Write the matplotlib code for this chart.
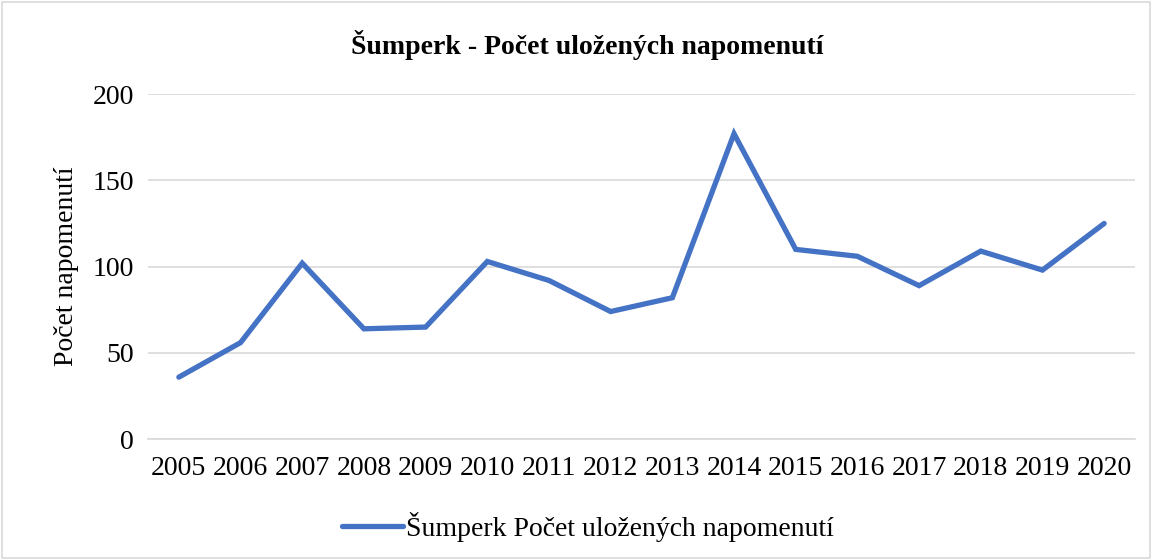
import matplotlib
matplotlib.use("Agg")
import matplotlib.pyplot as plt
from matplotlib.patches import Rectangle

years = ["2005", "2006", "2007", "2008", "2009", "2010", "2011", "2012",
         "2013", "2014", "2015", "2016", "2017", "2018", "2019", "2020"]
values = [36, 56, 102, 64, 65, 103, 92, 74, 82, 177, 110, 106, 89, 109, 98, 125]
yticks = [0, 50, 100, 150, 200]
title = "Šumperk - Počet uložených napomenutí"
ylabel = "Počet napomenutí"
series_name = "Šumperk Počet uložených napomenutí"

plt.rcParams['font.family'] = ['Liberation Serif', 'DejaVu Serif']

fig = plt.figure(figsize=(11.52, 5.6), dpi=100)
W, H = 1152, 560
ax = fig.add_axes([148 / W, 1 - 439.3 / H, (1135 - 148) / W, (439.3 - 94) / H])

x = list(range(len(years)))
line, = ax.plot(x, values, color="#4472C4", linewidth=3.8, solid_joinstyle="miter",
                solid_capstyle="round", label=series_name)

ax.set_xlim(-0.5, len(years) - 0.5)
ax.set_ylim(0, 200)
ax.set_yticks(yticks)
ax.set_xticks(x)
ax.set_xticklabels(years)
ax.tick_params(axis='both', length=0, labelsize=20, colors="black")
ax.tick_params(axis='x', pad=12)
ax.tick_params(axis='y', pad=10)
ax.grid(axis='y', color="#D9D9D9", linewidth=1.2)
ax.set_axisbelow(True)
for s in ["top", "right", "left"]:
    ax.spines[s].set_visible(False)
ax.spines["bottom"].set_color("#D9D9D9")
ax.spines["bottom"].set_linewidth(1.2)

ax.set_ylabel(ylabel, fontsize=20, labelpad=10)

fig.text(587 / W, 1 - 45 / H, title, ha="center", va="center", fontsize=20, fontweight="bold")

leg = fig.legend(handles=[line], loc="center", bbox_to_anchor=(588 / W, 1 - 527 / H),
                 frameon=False, fontsize=20, handlelength=2.2, handletextpad=0.1,
                 borderaxespad=0)

fig.patches.append(Rectangle((2 / W, 2 / H), 1 - 4 / W, 1 - 4 / H, transform=fig.transFigure,
                             fill=False, edgecolor="#D9D9D9", linewidth=1.2))

fig.savefig("out.png", dpi=100, facecolor="white")
